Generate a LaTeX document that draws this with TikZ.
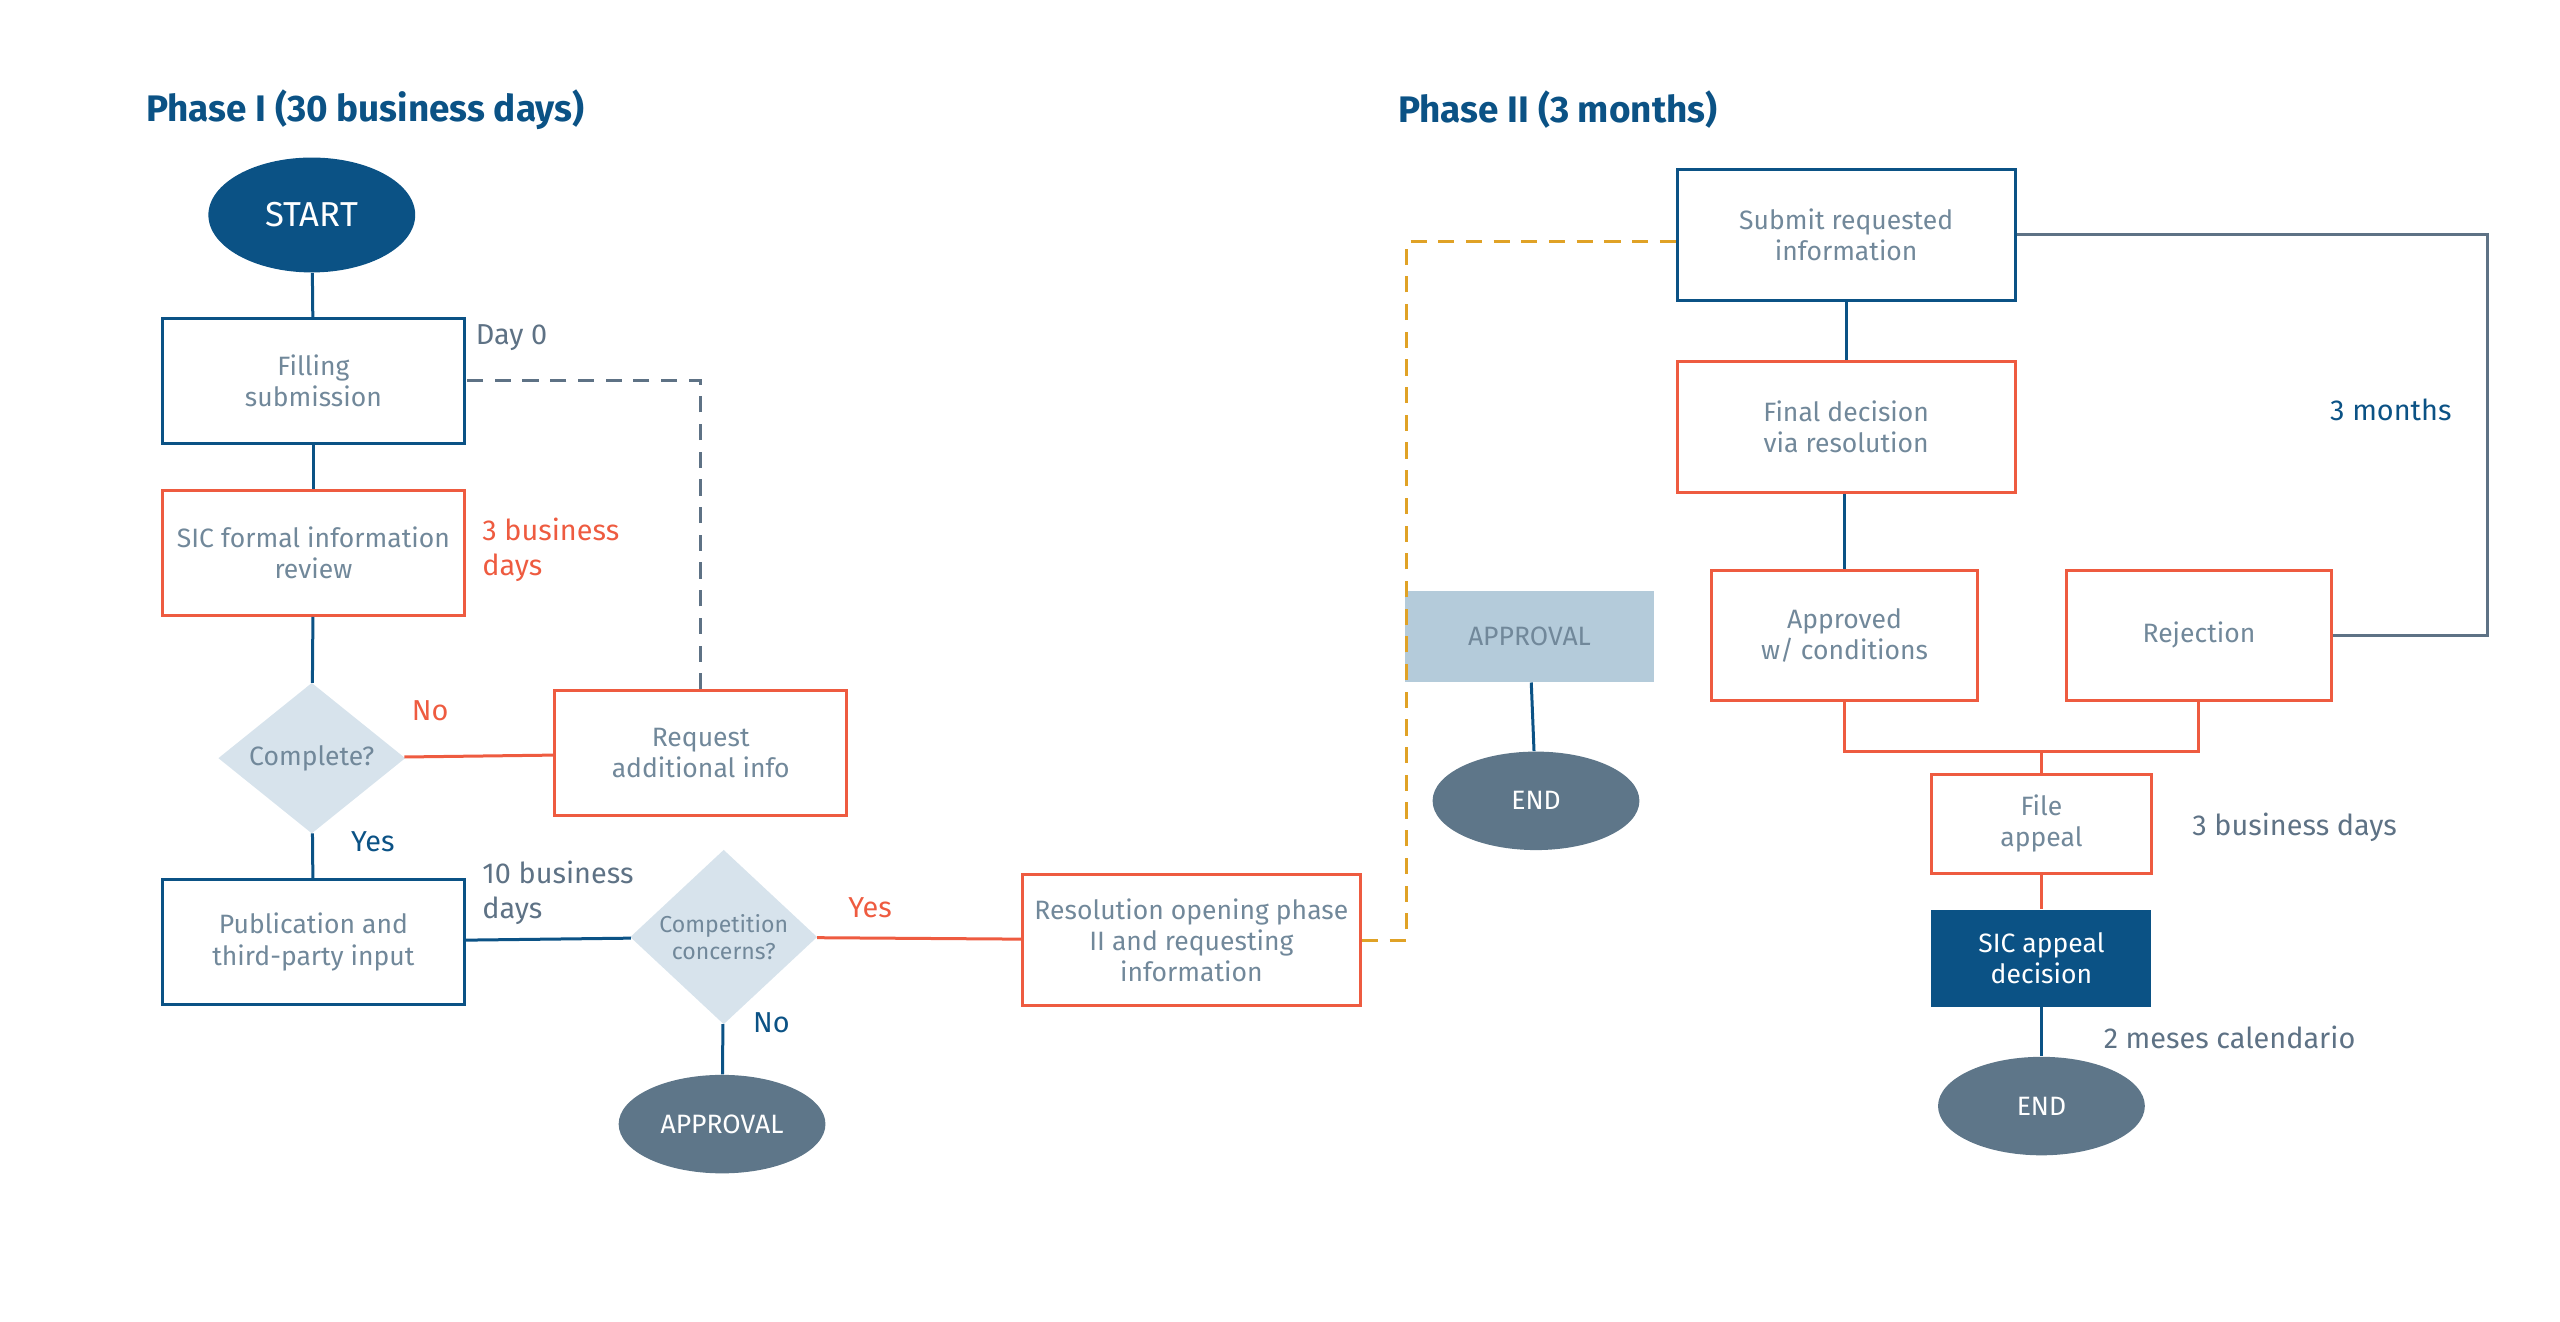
\documentclass[tikz,border=0pt]{standalone}
\usepackage{fontspec}
\setmainfont{Fira Sans}
\usetikzlibrary{shapes.geometric}
\definecolor{dblue}{HTML}{0B5285}
\definecolor{ored}{HTML}{EE5B40}
\definecolor{tgray}{HTML}{71889A}
\definecolor{lgray}{HTML}{5E7285}
\definecolor{dia}{HTML}{D7E3EC}
\definecolor{ell}{HTML}{5E7689}
\definecolor{apb}{HTML}{B4CBDA}
\definecolor{gold}{HTML}{E0A226}
\tikzset{
  txt/.style={font=\fontsize{11.5}{13.5}\selectfont, text=tgray, align=center},
  bbox/.style={txt, draw=dblue, line width=1.3pt, minimum width=4.6cm, minimum height=1.9cm},
  rbox/.style={txt, draw=ored, line width=1.3pt, minimum width=4.6cm, minimum height=1.9cm},
  dmd/.style={txt, diamond, fill=dia, aspect=1, minimum width=2.85cm, inner sep=0pt},
  oval/.style={ellipse, fill=ell, text=white, minimum width=3.15cm, minimum height=1.5cm, font=\fontsize{11.5}{13.5}\selectfont},
  lbl/.style={font=\fontsize{12.5}{15}\selectfont, anchor=west, align=left},
  ttl/.style={font=\fontsize{16}{19}\selectfont\bfseries, text=dblue, anchor=west},
  ln/.style={line width=1.3pt}
}
\begin{document}
\begin{tikzpicture}[x=0.025cm, y=-0.025cm]
\useasboundingbox (0,0) rectangle (1560,805);
% phase I
\node[ttl] (t1) at (84,67) {Phase I (30 business days)};
\node[ellipse, fill=dblue, text=white, minimum width=3.15cm, minimum height=1.75cm, font=\fontsize{15}{18}\selectfont] (start) at (190,131) {START};
\node[bbox] (fill) at (191,232) {Filling\\submission};
\node[lbl, text=lgray] (d0) at (285,206) {Day 0};
\node[rbox] (sic) at (191,337) {SIC formal information\\review};
\node[lbl, text=ored] (b3) at (289,335) {3 business\\days};
\node[dmd] (comp) at (190,462) {Complete?};
\node[lbl, text=ored] (no1) at (246,433) {No};
\node[rbox, minimum width=4.45cm] (req) at (427,459) {Request\\additional info};
\node[lbl, text=dblue] (yes1) at (209,513) {Yes};
\node[bbox] (pub) at (191,574) {Publication and\\third-party input};
\node[lbl, text=lgray] (b10) at (289,544) {10 business\\days};
\node[dmd, font=\fontsize{10}{12}\selectfont] (cc) at (441,571) {Competition\\concerns?};
\node[lbl, text=ored] (yes2) at (512,553) {Yes};
\node[lbl, text=dblue] (no2) at (454,623) {No};
\node[oval] (app1) at (440,685) {APPROVAL};
\node[rbox, minimum width=5.15cm, minimum height=2cm] (res) at (726,573) {Resolution opening phase\\II and requesting\\information};
\draw[ln, dblue] (start) -- (fill);
\draw[ln, dblue] (fill) -- (sic);
\draw[ln, dblue] (sic) -- (comp);
\draw[ln, ored] (comp) -- (req);
\draw[ln, lgray, dashed, dash pattern=on 7pt off 5pt] (req.north) |- (fill.east);
\draw[ln, dblue] (comp) -- (pub);
\draw[ln, dblue] (pub) -- (cc);
\draw[ln, ored] (cc) -- (res);
\draw[ln, dblue] (cc) -- (app1);
% phase II
\node[ttl] (t2) at (847,67) {Phase II (3 months)};
\node[bbox, minimum width=5.15cm, minimum height=2cm] (sub) at (1125,143) {Submit requested\\information};
\node[rbox, minimum width=5.15cm, minimum height=2cm] (fin) at (1125,260) {Final decision\\via resolution};
\node[rbox, minimum width=4.05cm, minimum height=1.98cm] (appr) at (1124,387) {Approved\\w/ conditions};
\node[rbox, minimum width=4.05cm, minimum height=1.98cm] (rej) at (1340,387) {Rejection};
\node[lbl, text=dblue] (m3) at (1415,250) {3 months};
\node[txt, fill=apb, minimum width=3.8cm, minimum height=1.38cm] (app2) at (932,388) {APPROVAL};
\node[oval] (end1) at (936,488) {END};
\node[rbox, minimum width=3.35cm, minimum height=1.5cm] (file) at (1244,502) {File\\appeal};
\node[lbl, text=lgray] (b3b) at (1331,504) {3 business days};
\node[txt, fill=dblue, text=white, minimum width=3.35cm, minimum height=1.48cm] (sap) at (1244,584) {SIC appeal\\decision};
\node[lbl, text=lgray] (m2) at (1277,632) {2 meses calendario};
\node[oval] (end2) at (1244,674) {END};
\coordinate (oc) at (857,147);
\coordinate (gc) at (1516,143);
\coordinate (jn) at (1244,458);
\draw[ln, gold, dashed, dash pattern=on 7pt off 5pt] (res.east) -| (oc) -- (sub.west|-oc);
\draw[ln, dblue] (sub) -- (fin);
\draw[ln, dblue] (fin.south-|appr.north) -- (appr.north);
\draw[ln, lgray] (sub.east) -| (gc) |- (rej.east);
\draw[ln, dblue] (app2) -- (end1);
\draw[ln, ored] (appr.south) |- (jn) -| (rej.south);
\draw[ln, ored] (jn) -- (file);
\draw[ln, ored] (file) -- (sap);
\draw[ln, dblue] (sap) -- (end2);
\end{tikzpicture}
\end{document}
